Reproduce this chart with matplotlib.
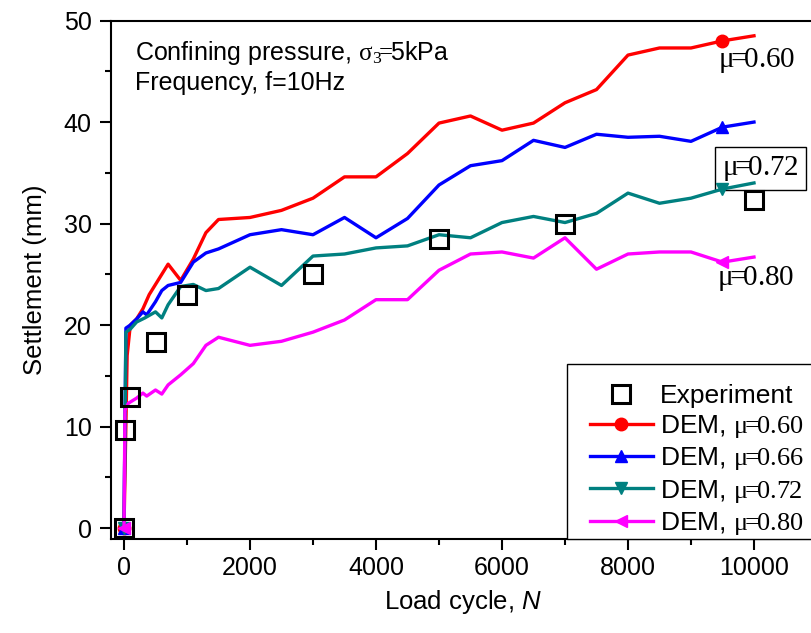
import matplotlib
matplotlib.use("Agg")
import matplotlib.pyplot as plt
from matplotlib.patches import Rectangle

plt.rcParams['font.family'] = ['Liberation Sans', 'DejaVu Sans']
plt.rcParams['mathtext.fontset'] = 'custom'
plt.rcParams['mathtext.rm'] = 'Liberation Serif'
plt.rcParams['mathtext.it'] = 'Liberation Sans:italic'

# experiment
exp_n = [0, 10, 100, 500, 1000, 3000, 5000, 7000, 10000]
exp_s = [0, 9.7, 12.9, 18.3, 23.0, 25.0, 28.5, 30.0, 32.3]

# DEM, mu = 0.60
n_060 = [0, 50, 100, 200, 300, 400, 500, 700, 900, 1100, 1300, 1500, 2000, 2500, 3000, 3500,
         4000, 4500, 5000, 5500, 6000, 6500, 7000, 7500, 8000, 8500, 9000, 9500, 10000]
s_060 = [0, 17.0, 20.0, 20.6, 21.6, 23.0, 24.0, 26.0, 24.4, 26.5, 29.1, 30.4, 30.6, 31.3, 32.5, 34.6,
         34.6, 36.9, 39.9, 40.6, 39.2, 39.9, 41.9, 43.2, 46.6, 47.3, 47.3, 48.0, 48.5]

# DEM, mu = 0.66
n_066 = [0, 30, 100, 200, 300, 360, 500, 600, 700, 900, 1100, 1300, 1500, 2000, 2500, 3000, 3500,
         4000, 4500, 5000, 5500, 6000, 6500, 7000, 7500, 8000, 8500, 9000, 9500, 10000]
s_066 = [0, 19.7, 20.0, 20.6, 21.3, 21.0, 22.3, 23.4, 23.9, 24.2, 26.2, 27.1, 27.5, 28.9, 29.4, 28.9, 30.6,
         28.6, 30.5, 33.8, 35.7, 36.2, 38.2, 37.5, 38.8, 38.5, 38.6, 38.1, 39.5, 40.0]

# DEM, mu = 0.72
n_072 = [0, 30, 100, 200, 330, 500, 600, 700, 900, 1100, 1300, 1500, 2000, 2500, 3000, 3500,
         4000, 4500, 5000, 5500, 6000, 6500, 7000, 7500, 8000, 8500, 9000, 9500, 10000]
s_072 = [0, 19.3, 19.6, 20.3, 20.7, 21.3, 20.7, 22.0, 23.8, 24.0, 23.4, 23.6, 25.7, 23.9, 26.8, 27.0,
         27.6, 27.8, 28.9, 28.6, 30.1, 30.7, 30.1, 31.0, 33.0, 32.0, 32.5, 33.4, 34.0]

# DEM, mu = 0.80
n_080 = [0, 15, 70, 200, 300, 360, 500, 600, 700, 900, 1100, 1300, 1500, 2000, 2500, 3000, 3500,
         4000, 4500, 5000, 5500, 6000, 6500, 7000, 7500, 8000, 8500, 9000, 9500, 10000]
s_080 = [0, 11.6, 12.3, 12.8, 13.3, 13.0, 13.6, 13.2, 14.1, 15.1, 16.2, 18.0, 18.8, 18.0, 18.4, 19.3, 20.5,
         22.5, 22.5, 25.4, 27.0, 27.2, 26.6, 28.6, 25.5, 27.0, 27.2, 27.2, 26.2, 26.7]

mu_labels = ['0.60', '0.66', '0.72', '0.80']


def mu(v):
    # tight "mu=value" in serif, like the original
    return r'$\mathrm{\mu\!\!=\!\!' + v + '}$'


fig = plt.figure(figsize=(8.11, 6.33), dpi=100)
ax = fig.add_axes([0.1369, 0.1485, 0.868, 0.819])

ax.plot(exp_n, exp_s, ls='none', marker='s', ms=13, mfc='none', mec='black', mew=2.2,
        label='Experiment', zorder=5)

series = [
    (n_060, s_060, '#ff0000', 'o'),
    (n_066, s_066, '#0000ff', '^'),
    (n_072, s_072, '#008080', 'v'),
    (n_080, s_080, '#ff00ff', '<'),
]
for (n, s, c, m), v in zip(series, mu_labels):
    ax.plot(n, s, color=c, lw=2.4, marker=m, ms=9, markevery=[0, len(n) - 2],
            label='DEM, ' + mu(v), zorder=4)

ax.set_xlim(-206, 10968)
ax.set_ylim(-1.08, 50)
ax.set_xticks([0, 2000, 4000, 6000, 8000, 10000])
ax.set_xticks([1000, 3000, 5000, 7000, 9000], minor=True)
ax.set_yticks([0, 10, 20, 30, 40, 50])
ax.set_yticks([5, 15, 25, 35, 45], minor=True)
ax.tick_params(which='major', length=8, width=1.5, labelsize=18, direction='out')
ax.tick_params(which='minor', length=4.5, width=1.5, direction='out')
ax.tick_params(axis='y', pad=6)
ax.tick_params(axis='x', pad=4)
ax.spines['right'].set_visible(False)
for sp in ['left', 'bottom', 'top']:
    ax.spines[sp].set_linewidth(1.5)

ax.set_xlabel(r'Load cycle, $\mathit{N}$', fontsize=18.5, labelpad=6)
ax.set_ylabel('Settlement (mm)', fontsize=18.5, labelpad=12)

ax.text(175, 46.1, r'Confining pressure, $\mathrm{\sigma_3\!\!=\!\!}$5kPa', fontsize=18, va='baseline')
ax.text(175, 43.2, 'Frequency, f=10Hz', fontsize=18, va='baseline')

ax.text(9430, 45.4, mu('0.60'), fontsize=21, va='baseline')
ax.text(9492, 34.8, mu('0.72'), fontsize=21, va='baseline',
        bbox=dict(boxstyle='square,pad=0.25', fc='white', ec='black', lw=1))
ax.text(9413, 23.9, mu('0.80'), fontsize=21, va='baseline')

# legend frame drawn separately so it can run past the right edge like the original
ax.add_patch(Rectangle((0.648, 0.0), 0.4, 0.3375, transform=ax.transAxes, fc='white',
                       ec='black', lw=1.0, zorder=6, clip_on=False))
leg = ax.legend(loc='lower left', bbox_to_anchor=(0.680, 0.004), borderaxespad=0, borderpad=0,
                fontsize=19, handlelength=2.4, handletextpad=0.27, labelspacing=0.2,
                frameon=False)
leg.set_zorder(7)

fig.savefig('out.png', dpi=100)
